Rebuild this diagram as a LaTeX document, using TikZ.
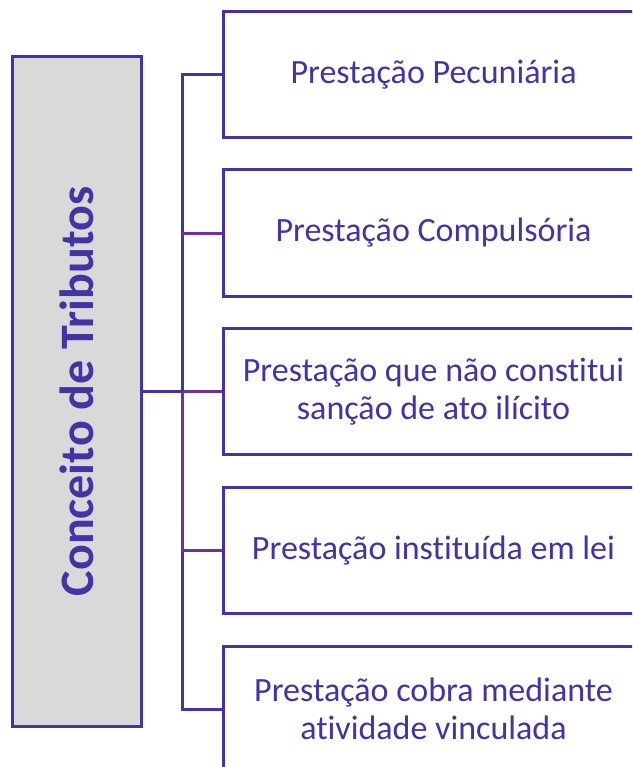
\documentclass[tikz,border=0pt]{standalone}
\usepackage{fontspec}
\setmainfont{Carlito}[Ligatures=CommonOff]
\definecolor{tblue}{RGB}{66,51,167}
\definecolor{tpurple}{RGB}{112,48,160}
\definecolor{tgray}{RGB}{217,217,217}
\begin{document}
\begin{tikzpicture}[x=1pt,y=-1pt,
  childbox/.style={draw=tblue,line width=3pt,fill=white,anchor=west,
    minimum width=420pt,minimum height=126pt,align=center,text=tblue,
    font=\fontsize{34}{38}\selectfont,inner sep=0pt},
  rootbox/.style={draw=tblue,line width=3pt,fill=tgray,rotate=90,
    minimum width=669pt,minimum height=129pt,text=tblue,
    font=\fontsize{48}{54}\selectfont\bfseries,inner sep=0pt},
  blueline/.style={draw=tblue,line width=3pt},
  purpline/.style={draw=tpurple,line width=3pt}]
\useasboundingbox (0,0) rectangle (632,767);
\clip (0,0) rectangle (632,767);
\fill[white] (0,0) rectangle (632,767);
\node[rootbox] (root) at (76.5,391.5) {Conceito de Tributos};
\node[childbox] (c1) at (222,74.5) {Prestação Pecuniária};
\node[childbox] (c2) at (222,233) {Prestação Compulsória};
\node[childbox] (c3) at (222,391.5) {Prestação que não constitui\\sanção de ato ilícito};
\node[childbox] (c4) at (222,550.5) {Prestação instituída em lei};
\node[childbox] (c5) at (222,709) {Prestação cobra mediante\\atividade vinculada};
\coordinate (j) at (182,391.5);
\draw[blueline] (j) |- (c5.west);
\draw[purpline] (j) |- (c4.west);
\draw[blueline] (j) |- (c1.west);
\draw[purpline] (c2.west -| j) -- (c2.west);
\draw[purpline] (j) -- (c3.west);
\draw[blueline] (root.south) -- (j);
\end{tikzpicture}
\end{document}
